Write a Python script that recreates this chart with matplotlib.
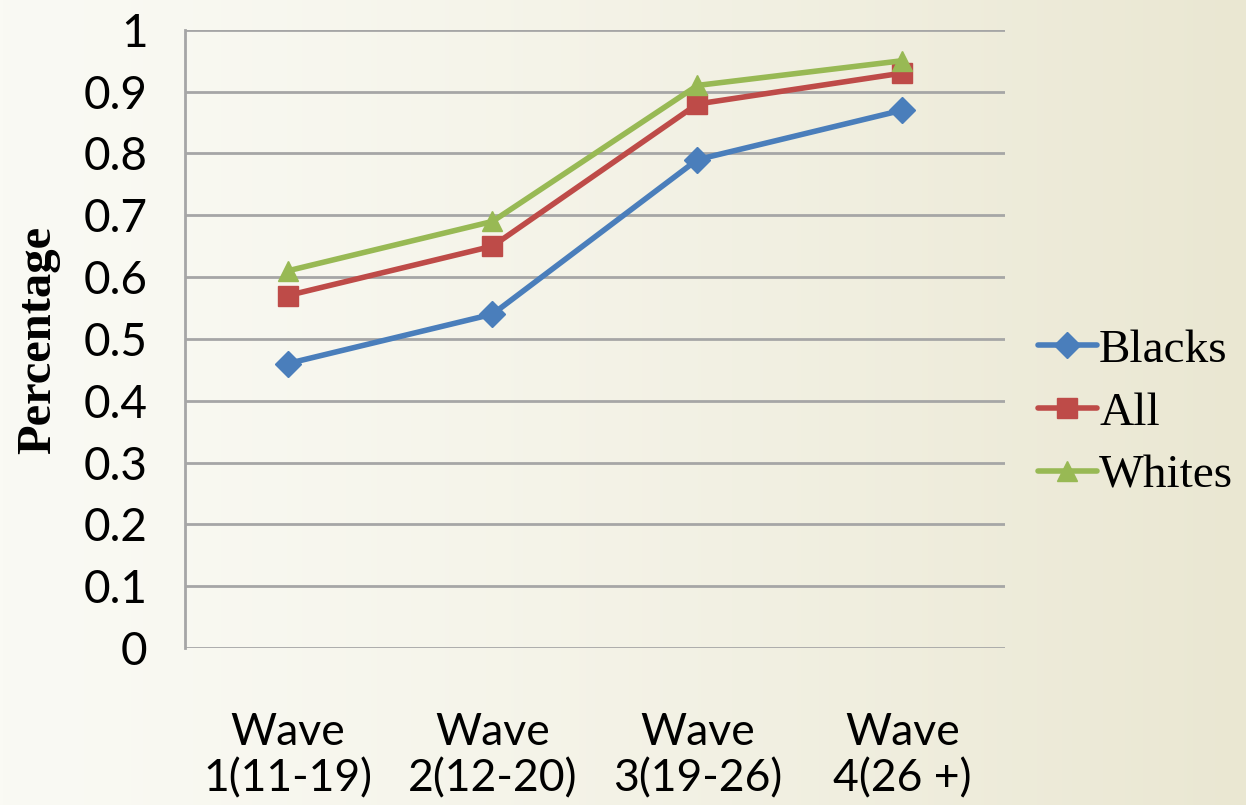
import numpy as np
import matplotlib
matplotlib.use("Agg")
import matplotlib.pyplot as plt

categories = ["Wave\n1(11-19)", "Wave\n2(12-20)", "Wave\n3(19-26)", "Wave\n4(26 +)"]
blacks = [0.46, 0.54, 0.79, 0.87]
all_groups = [0.57, 0.65, 0.88, 0.93]
whites = [0.61, 0.69, 0.91, 0.95]
y_ticks = [0, 0.1, 0.2, 0.3, 0.4, 0.5, 0.6, 0.7, 0.8, 0.9, 1]
y_tick_labels = ["0", "0.1", "0.2", "0.3", "0.4", "0.5", "0.6", "0.7", "0.8", "0.9", "1"]

sans = ["Lato", "DejaVu Sans"]
serif = ["Liberation Serif", "DejaVu Serif"]

fig = plt.figure(figsize=(12.46, 8.05), dpi=100)

# soft beige background, lighter on the left
bg = fig.add_axes([0, 0, 1, 1], zorder=-10)
left_c = np.array([250, 250, 244]) / 255
right_c = np.array([234, 231, 210]) / 255
t = np.linspace(0, 1, 400) ** 1.3
grad = left_c[None, :] * (1 - t[:, None]) + right_c[None, :] * t[:, None]
bg.imshow(grad[None, :, :], aspect="auto", extent=[0, 1, 0, 1])
bg.set_axis_off()

ax = fig.add_axes([0.1485, 0.195, 0.658, 0.768])
ax.patch.set_alpha(0)
x = np.arange(len(categories))

series = [
    ("Blacks", blacks, "#4a7ebb", "D", 13),
    ("All", all_groups, "#be4b48", "s", 14),
    ("Whites", whites, "#98b954", "^", 15),
]
for name, vals, col, mk, ms in series:
    ax.plot(x, vals, color=col, lw=4, marker=mk, ms=ms, mec=col, mfc=col,
            label=name, zorder=3, solid_capstyle="round")

ax.set_xlim(-0.5, len(categories) - 0.5)
ax.set_ylim(0, 1)
ax.set_yticks(y_ticks)
ax.set_yticklabels(y_tick_labels, family=sans, fontsize=33)
ax.set_xticks(x)
ax.set_xticklabels(categories, family=sans, fontsize=32, linespacing=1.15)
ax.tick_params(axis="x", length=0, pad=46)
ax.tick_params(axis="y", length=0, pad=27)
ax.grid(axis="y", color="#a6a6a6", lw=2)
ax.set_axisbelow(True)
for s in ["top", "right", "bottom"]:
    ax.spines[s].set_visible(False)
ax.spines["left"].set_color("#a6a6a6")
ax.spines["left"].set_linewidth(2)

fig.text(0.031, 0.578, "Percentage", rotation=90, ha="center", va="center",
         family=serif, fontweight="bold", fontsize=35)

leg = ax.legend(loc="center left", bbox_to_anchor=(1.04, 0.38), frameon=False,
                prop={"family": serif, "size": 34}, handlelength=1.25,
                handletextpad=0.05, labelspacing=0.42, borderaxespad=0,
                borderpad=0)

fig.savefig("out.png", dpi=100)
